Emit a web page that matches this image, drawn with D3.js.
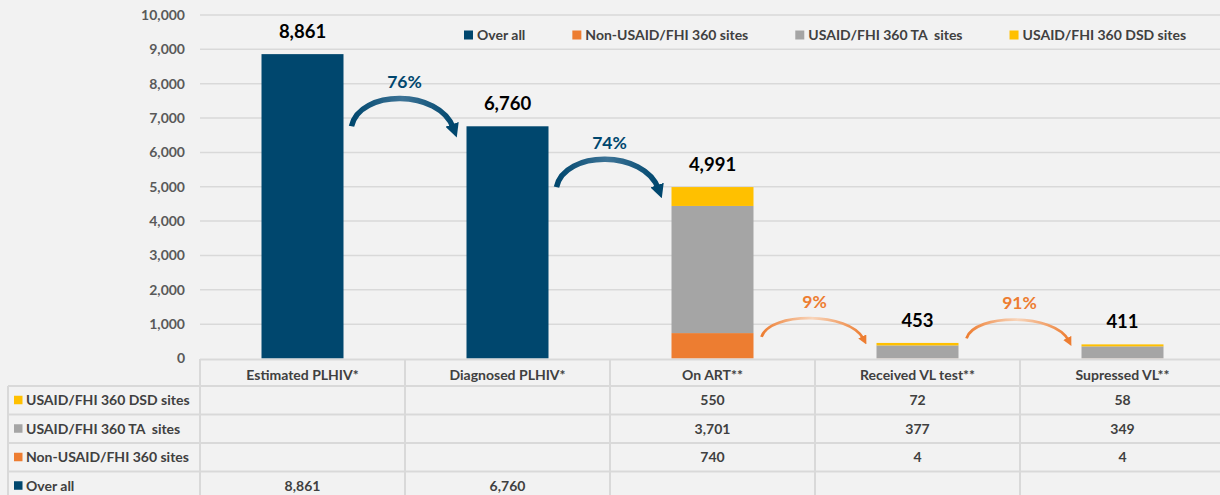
<!DOCTYPE html>
<html>
<head>
<meta charset="utf-8">
<script src="https://cdn.jsdelivr.net/npm/d3@7"></script>
<style>
  html, body { margin: 0; padding: 0; background: #f2f2f2; }
  svg { display: block; font-family: Lato, "Open Sans", sans-serif; font-weight: bold; }
  svg text { white-space: pre; }
</style>
</head>
<body>
<svg id="chart" width="1220" height="495"></svg>
<script>
// data
var categories = ["Estimated PLHIV*", "Diagnosed PLHIV*", "On ART**", "Received VL test**", "Supressed VL**"];
var seriesNames = ["Over all", "Non-USAID/FHI 360 sites", "USAID/FHI 360 TA  sites", "USAID/FHI 360 DSD sites"];
var overAll = [8861, 6760, null, null, null];
var nonUsaid = [null, null, 740, 4, 4];
var taSites = [null, null, 3701, 377, 349];
var dsdSites = [null, null, 550, 72, 58];
var pctLabels = ["76%", "74%", "9%", "91%"];
var yTicks = [0, 1000, 2000, 3000, 4000, 5000, 6000, 7000, 8000, 9000, 10000];

var colors = ["#00476e", "#ed7d31", "#a5a5a5", "#ffc000"];
var seriesData = [overAll, nonUsaid, taSites, dsdSites];

var svg = d3.select("#chart");
var fmt = d3.format(",");
var fs = 14;

var x = d3.scaleBand().domain(categories).range([200, 1225]).paddingInner(0.6).paddingOuter(0.3);
var y = d3.scaleLinear().domain([0, 10000]).range([358.5, 15]);

// gridlines
svg.append("g").selectAll("line").data(yTicks.slice(1)).join("line")
  .attr("x1", 200).attr("x2", 1220)
  .attr("y1", function (d) { return y(d); }).attr("y2", function (d) { return y(d); })
  .attr("stroke", "#d9d9d9").attr("stroke-width", 1.5);

// y axis labels
var yAxis = d3.axisLeft(y).tickValues(yTicks).tickFormat(fmt).tickSize(0).tickPadding(0);
var ya = svg.append("g").attr("transform", "translate(185,0)").call(yAxis);
ya.select(".domain").remove();
ya.selectAll("text").attr("fill", "#595959").attr("font-size", fs)
  .attr("font-family", "Lato, sans-serif").attr("font-weight", "bold");

// stacked bars
var rows = categories.map(function (c, i) {
  var r = { cat: c };
  seriesNames.forEach(function (s, k) { r[s] = seriesData[k][i] || 0; });
  return r;
});
var stack = d3.stack().keys(seriesNames)(rows);
svg.append("g").selectAll("g").data(stack).join("g")
  .attr("fill", function (d, k) { return colors[k]; })
  .selectAll("rect").data(function (d) { return d; }).join("rect")
  .attr("x", function (d) { return x(d.data.cat); })
  .attr("width", x.bandwidth())
  .attr("y", function (d) { return y(d[1]); })
  .attr("height", function (d) { return y(d[0]) - y(d[1]); });

var totals = rows.map(function (r) { return d3.sum(seriesNames, function (s) { return r[s]; }); });

// total labels
svg.append("g").selectAll("text").data(totals).join("text")
  .attr("x", function (d, i) { return x(categories[i]) + x.bandwidth() / 2; })
  .attr("y", function (d) { return y(d) - 16; })
  .attr("text-anchor", "middle").attr("font-size", 18.5).attr("fill", "#000")
  .text(function (d) { return fmt(d); });

// conversion arrows
var defs = svg.append("defs");
pctLabels.forEach(function (p, i) {
  var blue = i < 2;
  var col = blue ? "#00476e" : "#ed7d31";
  var light = blue ? "#3d7396" : "#f8d5bb";
  var x0 = x(categories[i]) + x.bandwidth() + 8;
  var x1 = x(categories[i + 1]) - 13;
  var ye = y(totals[i + 1]) - (blue ? 0 : 6);
  var h = blue ? 28 : 19;
  var peak = ye - h;
  var cy = (peak - 0.25 * ye) / 0.75;
  var g = defs.append("linearGradient").attr("id", "grad" + i)
    .attr("gradientUnits", "userSpaceOnUse").attr("x1", x0).attr("x2", x1).attr("y1", 0).attr("y2", 0);
  g.append("stop").attr("offset", "0%").attr("stop-color", col);
  g.append("stop").attr("offset", "50%").attr("stop-color", light);
  g.append("stop").attr("offset", "100%").attr("stop-color", col);
  var m = defs.append("marker").attr("id", "head" + i)
    .attr("markerUnits", "userSpaceOnUse")
    .attr("viewBox", "0 0 10 10").attr("refX", 3).attr("refY", 5)
    .attr("markerWidth", blue ? 14 : 9).attr("markerHeight", blue ? 14 : 9)
    .attr("orient", "auto");
  m.append("path").attr("d", "M0,0 L10,5 L0,10 Z").attr("fill", col);
  svg.append("path")
    .attr("d", "M" + x0 + "," + ye + " C" + (x0 + 8) + "," + cy + " " + (x1 - 14) + "," + cy + " " + x1 + "," + (ye + 2))
    .attr("fill", "none").attr("stroke", "url(#grad" + i + ")")
    .attr("stroke-width", blue ? 5.5 : 2.8)
    .attr("marker-end", "url(#head" + i + ")");
  svg.append("text")
    .attr("x", (x0 + x1) / 2 + 2).attr("y", peak - 10)
    .attr("text-anchor", "middle").attr("font-size", 17.5).attr("fill", col)
    .text(p);
});

// legend
var lg = svg.append("g").attr("transform", "translate(464,35)");
var lx = 0;
seriesNames.forEach(function (s, k) {
  var it = lg.append("g").attr("transform", "translate(" + lx + ",0)");
  it.append("rect").attr("x", 0).attr("y", -4.5).attr("width", 9).attr("height", 9).attr("fill", colors[k]);
  var t = it.append("text").attr("x", 13).attr("y", 5).attr("font-size", fs).attr("fill", "#404040").text(s);
  lx += 13 + t.node().getComputedTextLength() + 47;
});

// data table
var tbl = svg.append("g");
var rowOrder = [3, 2, 1, 0];
var rowY = [386, 414.5, 443, 471.5, 500];
var lineCol = "#d9d9d9";
tbl.append("line").attr("x1", 200).attr("x2", 1220).attr("y1", 359.5).attr("y2", 359.5)
  .attr("stroke", lineCol).attr("stroke-width", 2);
rowY.slice(0, 4).forEach(function (yy) {
  tbl.append("line").attr("x1", 8).attr("x2", 1220).attr("y1", yy).attr("y2", yy)
    .attr("stroke", lineCol).attr("stroke-width", 2);
});
tbl.append("line").attr("x1", 8).attr("x2", 8).attr("y1", 386).attr("y2", 495)
  .attr("stroke", lineCol).attr("stroke-width", 2);
categories.forEach(function (c) {
  var xl = x(c) + x.bandwidth() / 2 - x.step() / 2;
  tbl.append("line").attr("x1", xl).attr("x2", xl).attr("y1", 359).attr("y2", 495)
    .attr("stroke", lineCol).attr("stroke-width", 2);
  tbl.append("text").attr("x", x(c) + x.bandwidth() / 2).attr("y", 380)
    .attr("text-anchor", "middle").attr("font-size", fs).attr("fill", "#404040").text(c);
});
rowOrder.forEach(function (k, r) {
  var cyy = (rowY[r] + rowY[r + 1]) / 2;
  tbl.append("rect").attr("x", 14).attr("y", cyy - 4.5).attr("width", 8.5).attr("height", 8.5).attr("fill", colors[k]);
  tbl.append("text").attr("x", 26).attr("y", cyy + 5).attr("font-size", fs).attr("fill", "#404040").text(seriesNames[k]);
  seriesData[k].forEach(function (v, i) {
    if (v == null) return;
    tbl.append("text").attr("x", x(categories[i]) + x.bandwidth() / 2).attr("y", cyy + 5)
      .attr("text-anchor", "middle").attr("font-size", fs).attr("fill", "#404040").text(fmt(v));
  });
});
</script>
</body>
</html>
